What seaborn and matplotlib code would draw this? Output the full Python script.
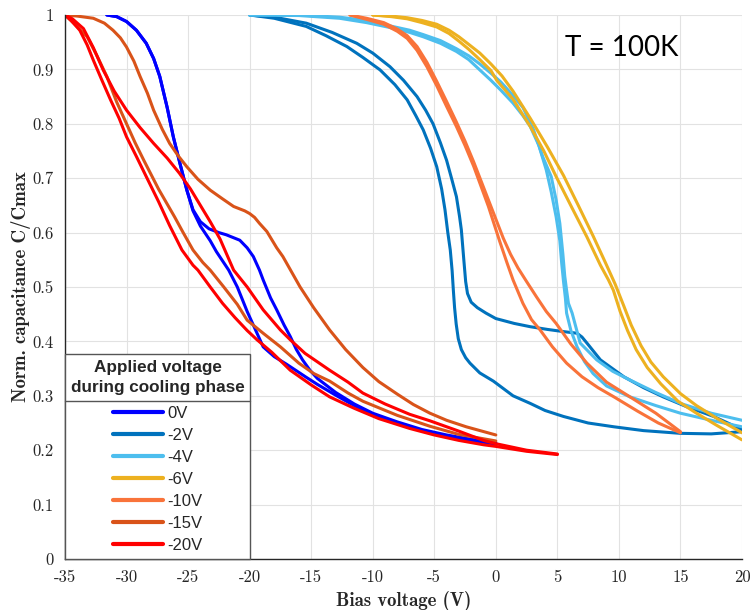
import matplotlib
matplotlib.use("Agg")
import matplotlib.pyplot as plt
import pandas as pd
import seaborn as sns
from matplotlib.lines import Line2D

# ---- measured C-V sweeps (bias in V, normalised capacitance C/Cmax) ----
# 0 V applied during cooling
v0_a_bias = [-31.6, -30.8, -30.0, -29.2, -28.4, -27.8, -27.3, -26.7, -26.2, -25.66, -25.1, -24.6, -24.0, -23.3,
             -22.5, -21.9, -20.8, -20.2, -19.7, -19.2, -18.9, -18.3, -17.8, -17.2, -16.7, -16.2, -15.7, -15.1,
             -14.5, -13.0, -11.5, -10.0, -8.0, -6.0, -4.0, -2.0, 0.0]
v0_a_cap = [1.0, 0.997, 0.988, 0.972, 0.948, 0.92, 0.887, 0.83, 0.776, 0.727, 0.678, 0.642, 0.62, 0.607,
            0.600, 0.596, 0.586, 0.572, 0.556, 0.531, 0.513, 0.48, 0.458, 0.43, 0.409, 0.385, 0.366, 0.347,
            0.332, 0.306, 0.285, 0.268, 0.252, 0.238, 0.228, 0.22, 0.214]
v0_b_bias = [-31.6, -30.8, -30.0, -29.2, -28.4, -27.8, -27.3, -26.7, -26.2, -25.66, -25.1, -24.6, -24.0, -23.2,
             -22.7, -22.2, -21.7, -21.0, -20.2, -19.5, -18.9, -18.0, -17.0, -16.2, -15.4, -14.5, -13.0, -11.5,
             -10.0, -8.0, -6.0, -4.0, -2.0, 0.0]
v0_b_cap = [1.0, 0.997, 0.988, 0.972, 0.948, 0.92, 0.887, 0.83, 0.776, 0.727, 0.678, 0.640, 0.612, 0.585,
            0.565, 0.548, 0.531, 0.5, 0.455, 0.42, 0.39, 0.372, 0.358, 0.346, 0.334, 0.321, 0.301, 0.282,
            0.265, 0.249, 0.236, 0.226, 0.218, 0.211]

# -2 V applied during cooling
v2_a_bias = [-20.0, -18.0, -15.4, -13.3, -11.3, -10.0, -8.6, -7.5, -6.4, -5.7, -5.1, -4.5, -4.0, -3.6, -3.2,
             -2.95, -2.8, -2.6, -2.45, -2.3, -2.0, -1.5, -0.8, 0.0, 1.5, 2.8, 4.2, 5.5, 6.6, 7.0, 7.4, 8.5, 10.4,
             12.0, 13.6, 15.5, 17.7, 20.0]
v2_a_cap = [1.0, 0.996, 0.985, 0.968, 0.948, 0.93, 0.905, 0.88, 0.85, 0.825, 0.80, 0.765, 0.733, 0.70, 0.666,
            0.63, 0.605, 0.55, 0.51, 0.488, 0.472, 0.462, 0.452, 0.442, 0.433, 0.427, 0.422, 0.418, 0.415,
            0.408, 0.397, 0.366, 0.335, 0.315, 0.298, 0.28, 0.262, 0.238]
v2_b_bias = [-20.0, -18.0, -15.4, -13.8, -12.1, -10.8, -9.4, -8.2, -7.2, -6.5, -5.9, -5.3, -4.8, -4.4, -4.13,
             -3.9, -3.7, -3.55, -3.45, -3.35, -3.22, -3.05, -2.8, -2.45, -2.1, -1.3, -0.2, 1.4, 2.8, 4.0, 5.5,
             7.5, 9.6, 12.0, 15.0, 17.5, 20.0]
v2_b_cap = [1.0, 0.994, 0.979, 0.962, 0.942, 0.922, 0.899, 0.872, 0.844, 0.815, 0.789, 0.755, 0.721, 0.68,
            0.642, 0.60, 0.568, 0.53, 0.494, 0.462, 0.432, 0.405, 0.385, 0.370, 0.36, 0.342, 0.327, 0.30, 0.286,
            0.273, 0.262, 0.25, 0.243, 0.236, 0.231, 0.23, 0.234]

# -4 V applied during cooling
v4_a_bias = [-20.0, -16.0, -12.7, -10.5, -8.6, -7.0, -5.9, -4.5, -3.2, -2.2, -1.3, -0.4, 0.4, 1.4, 2.2, 2.8,
             3.5, 4.1, 4.5, 4.9, 5.2, 5.35, 5.5, 5.65, 5.75, 6.1, 6.6, 7.2, 7.9, 9.0, 10.9, 13.0, 15.0, 17.5, 20.0]
v4_a_cap = [1.0, 0.999, 0.994, 0.986, 0.977, 0.968, 0.96, 0.948, 0.933, 0.918, 0.899, 0.88, 0.862, 0.838,
            0.815, 0.795, 0.76, 0.715, 0.675, 0.629, 0.585, 0.544, 0.51, 0.48, 0.452, 0.42, 0.39, 0.363, 0.341,
            0.318, 0.298, 0.282, 0.268, 0.255, 0.243]
v4_b_bias = [-20.0, -16.0, -12.7, -10.5, -8.6, -7.0, -5.9, -4.5, -3.2, -2.2, -1.3, -0.4, 0.4, 1.4, 2.2, 3.05,
             3.8, 4.5, 4.9, 5.2, 5.45, 5.6, 5.75, 5.9, 6.2, 6.85, 8.2, 9.5, 10.9, 13.0, 15.0, 17.5, 20.0]
v4_b_cap = [1.0, 1.0, 0.996, 0.99, 0.98, 0.972, 0.964, 0.953, 0.938, 0.925, 0.91, 0.893, 0.877, 0.852, 0.83,
            0.79, 0.74, 0.703, 0.66, 0.617, 0.56, 0.52, 0.494, 0.47, 0.452, 0.397, 0.366, 0.345, 0.329, 0.306,
            0.286, 0.268, 0.255]

# -6 V applied during cooling
v6_a_bias = [-10.0, -8.5, -7.2, -6.0, -4.8, -3.8, -3.0, -2.2, -1.3, -0.4, 0.5, 1.4, 2.8, 4.2, 5.5, 6.7, 7.9,
             8.9, 9.7, 10.4, 11.0, 11.8, 12.6, 13.6, 15.0, 16.3, 18.0, 20.0]
v6_a_cap = [1.0, 0.998, 0.995, 0.99, 0.983, 0.972, 0.96, 0.946, 0.93, 0.91, 0.888, 0.86, 0.81, 0.757, 0.705,
            0.65, 0.594, 0.545, 0.505, 0.465, 0.43, 0.392, 0.362, 0.335, 0.304, 0.282, 0.258, 0.232]
v6_b_bias = [-10.0, -8.5, -7.2, -6.0, -4.8, -3.8, -3.0, -2.2, -1.3, -0.4, 0.07, 1.4, 2.8, 3.9, 4.9, 6.2, 7.4,
             8.5, 9.15, 9.55, 10.1, 10.7, 11.4, 12.3, 13.4, 14.8, 16.3, 18.0, 20.0]
v6_b_cap = [1.0, 0.997, 0.993, 0.986, 0.978, 0.966, 0.952, 0.937, 0.918, 0.898, 0.88, 0.845, 0.795, 0.75,
            0.703, 0.645, 0.592, 0.54, 0.513, 0.494, 0.455, 0.42, 0.385, 0.352, 0.322, 0.29, 0.268, 0.245, 0.219]

# -10 V applied during cooling
v10_a_bias = [-11.85, -10.5, -9.1, -8.0, -7.2, -6.4, -5.6, -4.8, -4.0, -3.2, -2.5, -1.8, -1.2, -0.6, 0.0,
              0.6, 1.2, 1.8, 2.5, 3.3, 4.1, 4.9, 6.1, 7.4, 9.0, 10.9, 13.0, 15.0]
v10_a_cap = [1.0, 0.994, 0.986, 0.974, 0.962, 0.942, 0.913, 0.878, 0.841, 0.803, 0.768, 0.73, 0.695, 0.66,
             0.625, 0.59, 0.56, 0.535, 0.51, 0.482, 0.455, 0.433, 0.395, 0.36, 0.325, 0.298, 0.268, 0.234]
v10_b_bias = [-11.85, -10.5, -9.1, -8.0, -7.2, -6.4, -5.6, -4.8, -4.0, -3.2, -2.5, -1.8, -1.2, -0.6, -0.2,
              0.3, 0.9, 1.4, 2.2, 2.9, 3.6, 4.6, 5.75, 7.0, 8.3, 9.6, 11.5, 13.2, 15.0]
v10_b_cap = [1.0, 0.992, 0.983, 0.97, 0.957, 0.935, 0.905, 0.87, 0.832, 0.795, 0.76, 0.722, 0.685, 0.648,
             0.62, 0.585, 0.545, 0.513, 0.47, 0.44, 0.421, 0.39, 0.36, 0.335, 0.315, 0.298, 0.272, 0.25, 0.232]

# -15 V applied during cooling
v15_a_bias = [-35.0, -34.0, -32.7, -31.8, -31.1, -30.5, -30.0, -29.4, -28.9, -28.3, -27.8, -27.1, -26.5,
              -25.8, -25.1, -24.2, -23.2, -22.2, -21.3, -20.4, -20.0, -19.6, -19.2, -18.6, -17.8, -17.3, -16.6,
              -15.9, -14.8, -13.5, -12.2, -10.8, -9.5, -8.0, -6.7, -5.35, -4.0, -2.4, 0.0]
v15_a_cap = [1.0, 0.998, 0.994, 0.985, 0.972, 0.958, 0.941, 0.915, 0.887, 0.856, 0.825, 0.79, 0.764, 0.741,
             0.721, 0.698, 0.678, 0.662, 0.648, 0.64, 0.635, 0.628, 0.617, 0.602, 0.572, 0.556, 0.528, 0.50,
             0.462, 0.421, 0.385, 0.352, 0.326, 0.303, 0.284, 0.268, 0.255, 0.243, 0.228]
v15_b_bias = [-35.0, -34.3, -33.2, -32.4, -31.6, -30.8, -30.0, -29.3, -28.6, -27.4, -26.1, -25.4, -24.6,
              -23.8, -23.2, -22.1, -21.0, -20.2, -18.9, -17.5, -16.0, -14.8, -13.5, -12.0, -10.8, -8.0, -5.35,
              -3.0, 0.0]
v15_b_cap = [1.0, 0.985, 0.96, 0.925, 0.887, 0.84, 0.8, 0.765, 0.733, 0.68, 0.629, 0.6, 0.568, 0.545, 0.531,
             0.50, 0.468, 0.439, 0.415, 0.39, 0.36, 0.341, 0.327, 0.305, 0.29, 0.264, 0.244, 0.229, 0.217]

# -20 V applied during cooling
v20_a_bias = [-35.0, -34.5, -33.8, -33.2, -32.7, -32.0, -31.3, -30.6, -30.0, -29.2, -28.4, -27.4, -26.5,
              -25.5, -24.6, -24.2, -23.2, -22.2, -21.2, -20.2, -19.4, -18.2, -16.7, -15.0, -13.5, -11.5, -9.5,
              -7.0, -5.0, -3.0, -1.0, 0.0, 2.5, 5.0]
v20_a_cap = [1.0, 0.99, 0.972, 0.945, 0.917, 0.88, 0.844, 0.81, 0.776, 0.74, 0.703, 0.657, 0.613, 0.568, 0.54,
             0.531, 0.5, 0.47, 0.444, 0.42, 0.403, 0.38, 0.347, 0.32, 0.298, 0.277, 0.258, 0.24, 0.228, 0.218,
             0.21, 0.207, 0.198, 0.192]
v20_b_bias = [-35.0, -34.4, -33.5, -32.7, -31.9, -31.0, -30.0, -28.9, -27.8, -26.7, -25.7, -24.8, -24.0,
              -23.2, -22.4, -21.3, -20.2, -18.9, -17.5, -16.7, -15.5, -13.5, -12.0, -10.8, -9.0, -7.0, -5.35,
              -3.0, -1.0, 0.0, 2.5, 5.0]
v20_b_cap = [1.0, 0.993, 0.975, 0.94, 0.899, 0.86, 0.825, 0.793, 0.764, 0.737, 0.709, 0.68, 0.65, 0.62, 0.588,
             0.531, 0.50, 0.458, 0.421, 0.403, 0.378, 0.347, 0.325, 0.305, 0.285, 0.266, 0.254, 0.235, 0.218,
             0.212, 0.2, 0.193]

cooling_labels = ["0V", "-2V", "-4V", "-6V", "-10V", "-15V", "-20V"]
line_colors = ["#0000FF", "#0072BD", "#4DBEEE", "#EDB120", "#F9733A", "#D95319", "#FF0000"]

x_ticks = [-35, -30, -25, -20, -15, -10, -5, 0, 5, 10, 15, 20]
y_ticks = [0, 0.1, 0.2, 0.3, 0.4, 0.5, 0.6, 0.7, 0.8, 0.9, 1]
y_tick_labels = ["0", "0.1", "0.2", "0.3", "0.4", "0.5", "0.6", "0.7", "0.8", "0.9", "1"]

sweeps = [
    ("0V", "0V a", v0_a_bias, v0_a_cap), ("0V", "0V b", v0_b_bias, v0_b_cap),
    ("-2V", "-2V a", v2_a_bias, v2_a_cap), ("-2V", "-2V b", v2_b_bias, v2_b_cap),
    ("-4V", "-4V a", v4_a_bias, v4_a_cap), ("-4V", "-4V b", v4_b_bias, v4_b_cap),
    ("-6V", "-6V a", v6_a_bias, v6_a_cap), ("-6V", "-6V b", v6_b_bias, v6_b_cap),
    ("-10V", "-10V a", v10_a_bias, v10_a_cap), ("-10V", "-10V b", v10_b_bias, v10_b_cap),
    ("-15V", "-15V a", v15_a_bias, v15_a_cap), ("-15V", "-15V b", v15_b_bias, v15_b_cap),
    ("-20V", "-20V a", v20_a_bias, v20_a_cap), ("-20V", "-20V b", v20_b_bias, v20_b_cap),
]

frames = []
for cooling, sweep, bias, cap in sweeps:
    frames.append(pd.DataFrame({"Bias": bias, "Cap": cap, "Cooling": cooling, "Sweep": sweep}))
df = pd.concat(frames, ignore_index=True)

sns.set_theme(style="white")
plt.rcParams.update({
    "font.family": "serif",
    "font.serif": ["cmr10"],
    "axes.formatter.use_mathtext": True,
})

fig = plt.figure(figsize=(7.53, 6.10), dpi=100)
ax = fig.add_axes([65 / 753, 51 / 610, 677 / 753, 544 / 610])

palette = dict(zip(cooling_labels, line_colors))
sns.lineplot(data=df, x="Bias", y="Cap", hue="Cooling", units="Sweep", estimator=None, sort=False,
             hue_order=cooling_labels, palette=palette, linewidth=2.2, legend=False, ax=ax)

ax.set_xlim(-35, 20)
ax.set_ylim(0, 1)
ax.set_xticks(x_ticks)
ax.set_xticklabels([str(t) for t in x_ticks])
ax.set_yticks(y_ticks)
ax.set_yticklabels(y_tick_labels)
ax.grid(True, color="#e2e2e2", linewidth=0.8)
ax.set_axisbelow(True)
for side in ("top", "right"):
    ax.spines[side].set_visible(False)
for side in ("left", "bottom"):
    ax.spines[side].set_color("#262626")
    ax.spines[side].set_linewidth(1.0)
ax.tick_params(direction="in", length=5, width=0.8, colors="#262626", labelsize=12, pad=8)

ax.set_xlabel("Bias voltage (V)", fontfamily="cmb10", fontsize=13.5, labelpad=4)
ax.set_ylabel("Norm. capacitance C/Cmax", fontfamily="cmb10", fontsize=13.5, labelpad=1)

ax.text(10.2, 0.94, "T = 100K", fontfamily="Lato", fontsize=20, ha="center", va="center", color="black")

handles = [Line2D([0], [0], color=c, linewidth=3) for c in line_colors]
leg = ax.legend(handles, cooling_labels, title="Applied voltage\nduring cooling phase",
                loc="lower left", bbox_to_anchor=(0, 0), borderaxespad=0, frameon=True, fancybox=False,
                prop={"family": "Liberation Sans", "size": 12},
                title_fontproperties={"family": "Liberation Sans", "size": 12.3, "weight": "bold"},
                handlelength=3.05, handletextpad=0.25, labelspacing=0.42, borderpad=0.35,
                alignment="center")
leg.get_title().set_multialignment("center")
leg.get_title().set_linespacing(1.45)
leg._legend_box.sep = 8
leg.get_frame().set_edgecolor("#555555")
leg.get_frame().set_linewidth(1.0)
leg.get_frame().set_alpha(1.0)

# thin rule between the legend title and its entries
fig.canvas.draw()
renderer = fig.canvas.get_renderer()
frame_bb = leg.get_frame().get_window_extent(renderer)
title_bb = leg.get_title().get_window_extent(renderer)
first_bb = leg.get_texts()[0].get_window_extent(renderer)
y_rule = 0.5 * (title_bb.y0 + first_bb.y1)
fig.add_artist(Line2D([frame_bb.x0 / fig.bbox.width, frame_bb.x1 / fig.bbox.width],
                      [y_rule / fig.bbox.height, y_rule / fig.bbox.height],
                      transform=fig.transFigure, color="#555555", linewidth=1.0, zorder=10))

fig.savefig("out.png", dpi=100)
